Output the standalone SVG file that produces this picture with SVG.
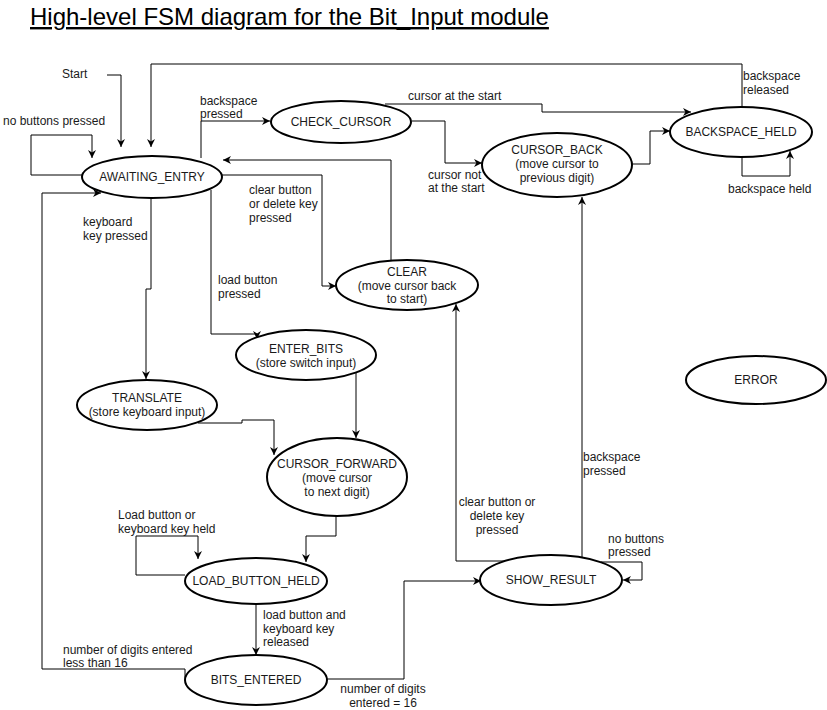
<svg xmlns="http://www.w3.org/2000/svg" width="827" height="710" viewBox="0 0 827 710">
<style>
  .node ellipse { fill: #ffffff; stroke: #000000; stroke-width: 2; }
  .node text { font-family: "Liberation Sans", Arial, sans-serif; font-size: 12px; fill: #1a1a1a; text-anchor: middle; }
  .lbl { font-family: "Liberation Sans", Arial, sans-serif; font-size: 12px; fill: #1a1a1a; }
  .lblm { text-anchor: middle; }
  #connectors path { fill: none; stroke: #000000; stroke-width: 1; marker-end: url(#arrow); }
  .title { font-family: "Liberation Sans", Arial, sans-serif; font-size: 24px; fill: #000000; text-decoration: underline; }
</style>
<defs>
  <marker id="arrow" viewBox="0 0 10 10" refX="10" refY="5" markerWidth="9" markerHeight="8" markerUnits="userSpaceOnUse" orient="auto">
    <path d="M0,0 L10,5 L0,10 L3,5 z" fill="#000000"/>
  </marker>
</defs>
<rect width="827" height="710" fill="#ffffff"/>
<text class="title" x="30" y="25">High-level FSM diagram for the Bit_Input module</text>

<g id="connectors">
  <path d="M107,75 H121 V147"/>
  <path d="M82,175 H31 V135 H92 V158"/>
  <path d="M742,107 V64 H151 V147"/>
  <path d="M201,158 V121 H270"/>
  <path d="M385,104 H542 V112 H691"/>
  <path d="M412,121 H445 V163 H482"/>
  <path d="M632,164 H650 V131 H670"/>
  <path d="M742,157 V176 H790 V151"/>
  <path d="M222,175 H322 V286 H336"/>
  <path d="M391,261 V160 H223"/>
  <path d="M151,198 V289 H146 V379"/>
  <path d="M211,190 V334 H257 V339"/>
  <path d="M356,373 V438"/>
  <path d="M198,423 H242 V420 H274 V455"/>
  <path d="M336,516 V536 H306 V562"/>
  <path d="M185,575 H136 V536 H198 V559"/>
  <path d="M256,604 V655"/>
  <path d="M185,679 V669 H42 V193 H101"/>
  <path d="M327,679 H404 V581 H481"/>
  <path d="M510,561 H456 V304"/>
  <path d="M582,557 V197"/>
  <path d="M601,562 H642 V580 H623"/>
</g>

<g id="labels">
  <text class="lbl" x="62" y="78">Start</text>
  <text class="lbl" x="3" y="125">no buttons pressed</text>
  <text class="lbl" x="200" y="105">backspace</text>
  <text class="lbl" x="200" y="118">pressed</text>
  <text class="lbl" x="408" y="100">cursor at the start</text>
  <text class="lbl" x="428" y="179">cursor not</text>
  <text class="lbl" x="428" y="192">at the start</text>
  <text class="lbl" x="743" y="80">backspace</text>
  <text class="lbl" x="743" y="94">released</text>
  <text class="lbl" x="728" y="193">backspace held</text>
  <text class="lbl" x="249" y="194">clear button</text>
  <text class="lbl" x="249" y="208">or delete key</text>
  <text class="lbl" x="249" y="222">pressed</text>
  <text class="lbl" x="83" y="226">keyboard</text>
  <text class="lbl" x="83" y="240">key pressed</text>
  <text class="lbl" x="218" y="284">load button</text>
  <text class="lbl" x="218" y="298">pressed</text>
  <text class="lbl" x="583" y="461">backspace</text>
  <text class="lbl" x="583" y="475">pressed</text>
  <text class="lbl lblm" x="497" y="506">clear button or</text>
  <text class="lbl lblm" x="497" y="520">delete key</text>
  <text class="lbl lblm" x="497" y="534">pressed</text>
  <text class="lbl" x="608" y="543">no buttons</text>
  <text class="lbl" x="608" y="556">pressed</text>
  <text class="lbl" x="118" y="519">Load button or</text>
  <text class="lbl" x="118" y="533">keyboard key held</text>
  <text class="lbl" x="263" y="619">load button and</text>
  <text class="lbl" x="263" y="633">keyboard key</text>
  <text class="lbl" x="263" y="646">released</text>
  <text class="lbl" x="63" y="654">number of digits entered</text>
  <text class="lbl" x="63" y="667">less than 16</text>
  <text class="lbl lblm" x="383" y="693">number of digits</text>
  <text class="lbl lblm" x="383" y="707">entered = 16</text>
</g>

<g id="awaiting_entry" class="node">
  <ellipse cx="152" cy="177" rx="70" ry="21"/>
  <text x="152" y="181">AWAITING_ENTRY</text>
</g>
<g id="check_cursor" class="node">
  <ellipse cx="341" cy="122" rx="70" ry="21"/>
  <text x="341" y="126">CHECK_CURSOR</text>
</g>
<g id="backspace_held" class="node">
  <ellipse cx="741" cy="132" rx="71" ry="25"/>
  <text x="741" y="136">BACKSPACE_HELD</text>
</g>
<g id="cursor_back" class="node">
  <ellipse cx="557" cy="165" rx="75" ry="32"/>
  <text x="557" y="154">CURSOR_BACK</text>
  <text x="557" y="168">(move cursor to</text>
  <text x="557" y="182">previous digit)</text>
</g>
<g id="clear" class="node">
  <ellipse cx="407" cy="285" rx="71" ry="25"/>
  <text x="407" y="276">CLEAR</text>
  <text x="407" y="290">(move cursor back</text>
  <text x="407" y="303">to start)</text>
</g>
<g id="enter_bits" class="node">
  <ellipse cx="306" cy="355" rx="70" ry="25"/>
  <text x="306" y="353">ENTER_BITS</text>
  <text x="306" y="367">(store switch input)</text>
</g>
<g id="translate" class="node">
  <ellipse cx="147" cy="405" rx="70" ry="25"/>
  <text x="147" y="402">TRANSLATE</text>
  <text x="147" y="416">(store keyboard input)</text>
</g>
<g id="cursor_forward" class="node">
  <ellipse cx="337" cy="477" rx="70" ry="39"/>
  <text x="337" y="468">CURSOR_FORWARD</text>
  <text x="337" y="482">(move cursor</text>
  <text x="337" y="496">to next digit)</text>
</g>
<g id="load_button_held" class="node">
  <ellipse cx="256" cy="581" rx="71" ry="23"/>
  <text x="256" y="585">LOAD_BUTTON_HELD</text>
</g>
<g id="bits_entered" class="node">
  <ellipse cx="256" cy="680" rx="71" ry="25"/>
  <text x="256" y="684">BITS_ENTERED</text>
</g>
<g id="show_result" class="node">
  <ellipse cx="551" cy="580" rx="71" ry="25"/>
  <text x="551" y="584">SHOW_RESULT</text>
</g>
<g id="error" class="node">
  <ellipse cx="756" cy="380" rx="70" ry="24"/>
  <text x="756" y="384">ERROR</text>
</g>
</svg>
